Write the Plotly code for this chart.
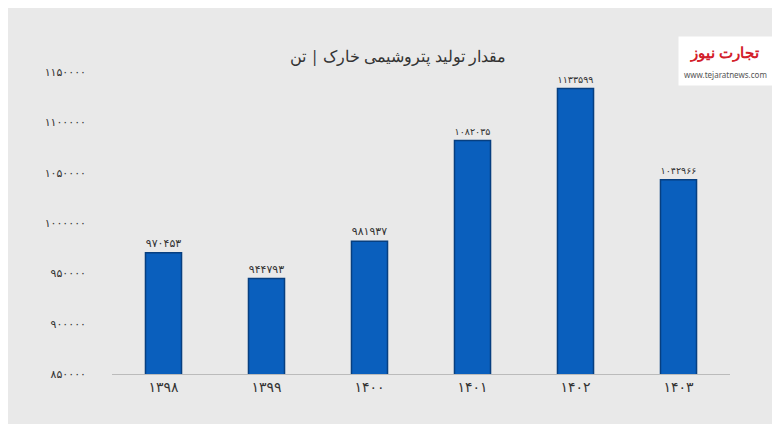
import plotly.graph_objects as go

years = ["۱۳۹۸", "۱۳۹۹", "۱۴۰۰", "۱۴۰۱", "۱۴۰۲", "۱۴۰۳"]
values = [970453, 944793, 981937, 1082035, 1133599, 1042966]
tick_vals = [850000, 900000, 950000, 1000000, 1050000, 1100000, 1150000]

fa = str.maketrans("0123456789", "۰۱۲۳۴۵۶۷۸۹")
def to_fa(n):
    return str(n).translate(fa)

fig = go.Figure()
fig.add_trace(go.Bar(
    x=years, y=values, width=0.35,
    marker=dict(color="#0a5fbd", line=dict(color="#073f80", width=1.5)),
    text=[to_fa(v) for v in values], textposition="outside",
    textfont=dict(size=11, color="#333", family="DejaVu Sans"),
    cliponaxis=False,
))

fig.update_layout(
    width=780, height=424,
    paper_bgcolor="#e9e9e9", plot_bgcolor="#e9e9e9",
    margin=dict(l=104, r=58, t=64, b=58),
    title=dict(text="مقدار تولید پتروشیمی خارک | تن", x=0.5, y=0.9,
               font=dict(size=16, color="#333", family="Noto Sans")),
    showlegend=False,
    xaxis=dict(tickfont=dict(size=14, color="#333", family="DejaVu Sans"),
               showline=True, linecolor="#bbb", ticks=""),
    yaxis=dict(range=[850000, 1150000], tickvals=tick_vals,
               ticktext=[to_fa(v) for v in tick_vals],
               tickfont=dict(size=11, color="#333", family="DejaVu Sans"),
               showgrid=False, zeroline=False, ticklabelstandoff=25),
)
fig.add_annotation(x=1.07, y=1.12, xref="paper", yref="paper", showarrow=False,
                   text="<b>تجارت نیوز</b><br><span style='font-size:8px;color:#555'>www.tejaratnews.com</span>",
                   font=dict(size=15, color="#d3202a", family="Noto Sans"),
                   bgcolor="white", xanchor="right", yanchor="top", borderpad=5)
fig.write_html("out.html")
